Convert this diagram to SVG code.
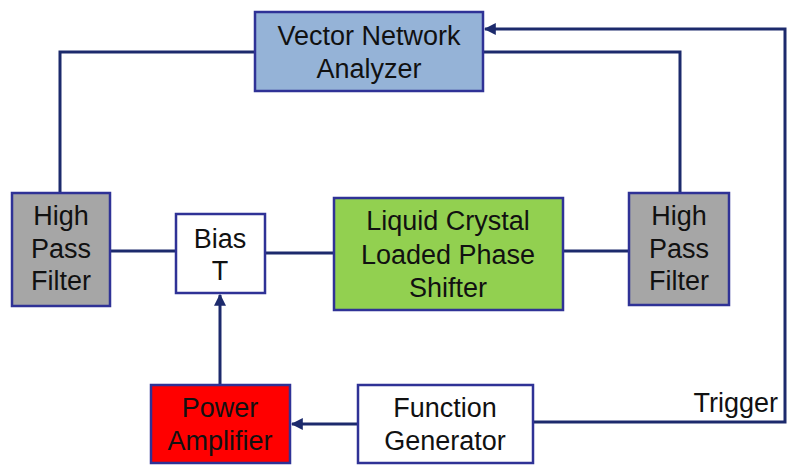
<svg xmlns="http://www.w3.org/2000/svg" width="787" height="473" viewBox="0 0 787 473">
<style>
.box{stroke:#2f3296;stroke-width:2.5}
.t{font-family:"Liberation Sans",Arial,sans-serif;font-size:27px;fill:#111;text-anchor:middle}
.ln{fill:none;stroke:#1c2a6c;stroke-width:3}
</style>
<defs>
<marker id="ah" viewBox="0 0 10 10" refX="9" refY="5" markerWidth="4" markerHeight="4" orient="auto" markerUnits="strokeWidth">
<path d="M0,0 L10,5 L0,10 Z" fill="#1c2a6c"/>
</marker>
</defs>
<rect width="787" height="473" fill="#fff"/>
<g id="connectors">
<polyline class="ln" points="255,52 60,52 60,193"/>
<polyline class="ln" points="483,52 680,52 680,193"/>
<polyline class="ln" points="533,422 785,422 785,29 485,29" marker-end="url(#ah)"/>
<line class="ln" x1="110" y1="251" x2="176" y2="251"/>
<line class="ln" x1="265" y1="253" x2="334" y2="253"/>
<line class="ln" x1="563" y1="251" x2="629" y2="251"/>
<line class="ln" x1="220" y1="385" x2="220" y2="295" marker-end="url(#ah)"/>
<line class="ln" x1="358" y1="424" x2="292" y2="424" marker-end="url(#ah)"/>
<text class="t" x="778" y="412" style="text-anchor:end">Trigger</text>
</g>
<g id="vna">
<rect class="box" x="255" y="12" width="228" height="79" fill="#95b3d7"/>
<text class="t" x="369" y="45">Vector Network</text>
<text class="t" x="369" y="78">Analyzer</text>
</g>
<g id="hpf-left">
<rect class="box" x="12" y="193" width="98" height="113" fill="#a6a6a6"/>
<text class="t" x="61" y="225">High</text>
<text class="t" x="61" y="258">Pass</text>
<text class="t" x="61" y="290">Filter</text>
</g>
<g id="bias-t">
<rect class="box" x="176" y="214" width="89" height="79" fill="#fff"/>
<text class="t" x="220" y="248">Bias</text>
<text class="t" x="220" y="280">T</text>
</g>
<g id="phase-shifter">
<rect class="box" x="334" y="198" width="229" height="112" fill="#92d050"/>
<text class="t" x="448" y="230">Liquid Crystal</text>
<text class="t" x="448" y="264">Loaded Phase</text>
<text class="t" x="448" y="297">Shifter</text>
</g>
<g id="hpf-right">
<rect class="box" x="629" y="193" width="100" height="112" fill="#a6a6a6"/>
<text class="t" x="679" y="225">High</text>
<text class="t" x="679" y="258">Pass</text>
<text class="t" x="679" y="290">Filter</text>
</g>
<g id="power-amp">
<rect class="box" x="151" y="385" width="139" height="78" fill="#ff0000"/>
<text class="t" x="220" y="417">Power</text>
<text class="t" x="220" y="450">Amplifier</text>
</g>
<g id="function-gen">
<rect class="box" x="358" y="385" width="175" height="78" fill="#fff"/>
<text class="t" x="445" y="417">Function</text>
<text class="t" x="445" y="450">Generator</text>
</g>
</svg>
